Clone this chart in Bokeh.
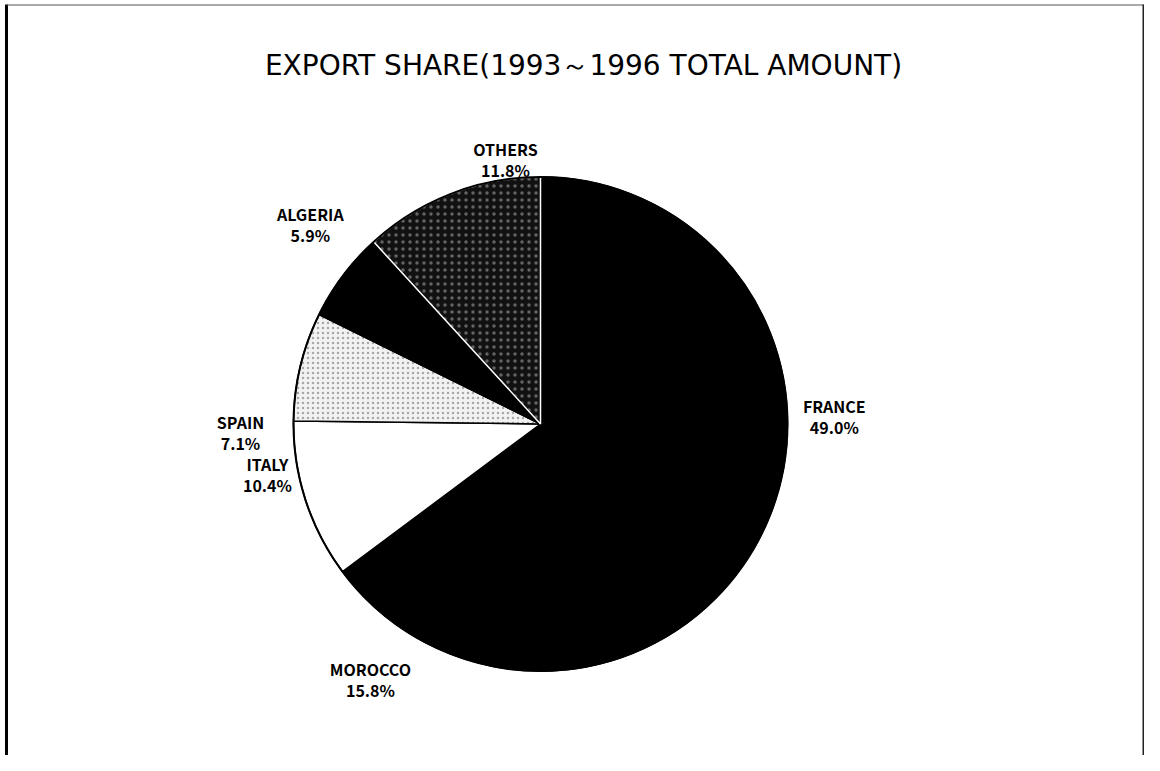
import math
from bokeh.plotting import figure
from bokeh.models import Range1d, ColumnDataSource
from bokeh.core.properties import value
from bokeh.embed import file_html
from bokeh.resources import INLINE

# ---- data ----
countries = ["FRANCE", "MOROCCO", "ITALY", "SPAIN", "ALGERIA", "OTHERS"]
shares = [49.0, 15.8, 10.4, 7.1, 5.9, 11.8]
title_text = "EXPORT SHARE(1993～1996 TOTAL AMOUNT)"

# ---- styles / layout (not data) ----
fills = ["#000000", "#000000", "#ffffff", "#f2f2f2", "#000000", "#111111"]
edge_colors = ["black", "black", "black", "black", "black", "white"]
hatches = [None, None, None, "dot", None, "dot"]
hatch_colors = ["#000000", "#000000", "#000000", "#888888", "#000000", "#888888"]
hatch_scales = [5, 5, 5, 5, 5, 7]
# label nudges: (angle offset in degrees clockwise, distance as multiple of radius)
label_nudge = [(0.3, 1.19), (8.8, 1.243), (7.6, 1.124), (-15.1, 1.215), (4.0, 1.233), (13.7, 1.08)]

W, H = 1144, 755
cx, cy, R = 540, -423.5, 247
LINE_GAP = 21

p = figure(width=W, height=H, output_backend="svg", toolbar_location=None,
           x_range=Range1d(0, W), y_range=Range1d(-H, 0),
           min_border=0, outline_line_color=None)
p.axis.visible = False
p.grid.visible = False
p.background_fill_color = "white"
p.border_fill_color = "white"

total = sum(shares)
starts, ends, mids = [], [], []
cum = 0.0
for s in shares:
    a0 = math.pi / 2 - 2 * math.pi * cum / total
    cum += s
    a1 = math.pi / 2 - 2 * math.pi * cum / total
    starts.append(a0)
    ends.append(a1)
    mids.append((a0 + a1) / 2)

for i in range(len(shares)):
    kw = {}
    if hatches[i]:
        kw = dict(hatch_pattern=hatches[i], hatch_color=hatch_colors[i],
                  hatch_scale=hatch_scales[i], hatch_alpha=0.7)
    p.wedge(x=cx, y=cy, radius=R, start_angle=starts[i], end_angle=ends[i], direction="clock",
            fill_color=fills[i], line_color=edge_colors[i], line_width=1.5, **kw)

# outer outline
p.circle(x=cx, y=cy, radius=R, fill_color=None, line_color="black", line_width=2)

# labels: name line above, percentage line below
nx, ny, nt, py, pt = [], [], [], [], []
for i, (c, s) in enumerate(zip(countries, shares)):
    dth, fac = label_nudge[i]
    ang = mids[i] - math.radians(dth)
    bx = cx + fac * R * math.cos(ang)
    by = cy + fac * R * math.sin(ang)
    nx.append(bx)
    ny.append(by + LINE_GAP / 2)
    py.append(by - LINE_GAP / 2)
    nt.append(c)
    pt.append(f"{s:.1f}%")
src = ColumnDataSource(dict(x=nx, yn=ny, yp=py, name=nt, pct=pt))
lab_style = dict(text_align="center", text_baseline="middle",
                 text_font=value("Noto Sans CJK JP"), text_font_style="bold",
                 text_font_size="16px", text_color="black")
p.text(x="x", y="yn", text="name", source=src, **lab_style)
p.text(x="x", y="yp", text="pct", source=src, **lab_style)

# title
p.text(x=[583], y=[-65], text=[title_text], text_align="center", text_baseline="middle",
       text_font=value("DejaVu Sans"), text_font_size="28px", text_color="black")

# frame (scanned box): left thick, top thin, right medium
p.segment(x0=[6], y0=[-4], x1=[6], y1=[-H], line_color="black", line_width=3)
p.segment(x0=[6], y0=[-4.5], x1=[1143], y1=[-4.5], line_color="#555555", line_width=1)
p.segment(x0=[1143], y0=[-4], x1=[1143], y1=[-H], line_color="#222222", line_width=2)

open("out.html", "w").write(file_html(p, INLINE))
